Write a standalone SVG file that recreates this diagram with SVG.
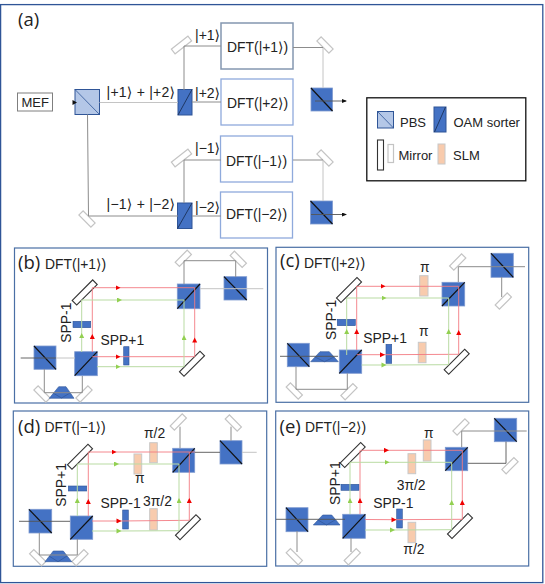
<svg xmlns="http://www.w3.org/2000/svg" width="545" height="584" viewBox="0 0 545 584">
<style>
text{font-family:"Liberation Sans","DejaVu Sans",sans-serif;font-size:13px;fill:#222}
.dl{font-size:13.9px}
.kt{font-size:14px}
.tag{font-family:"Open Sans","DejaVu Sans",sans-serif;font-size:18.5px}
.frame{fill:none;stroke:#2f5597;stroke-width:1.3}
.panel{fill:#fff;stroke:#4a6fa5;stroke-width:1.2}
.dft{fill:#fff;stroke:#8497b0;stroke-width:1.5}
.dft2{fill:#fff;stroke:#8faadc;stroke-width:1.3}
.cube rect{fill:#4472c4;stroke:#7f9bd0;stroke-width:.8}
.cube path{fill:none;stroke:#111;stroke-width:1.2}
.pbs rect{fill:#b4c7e7;stroke:#2f5597;stroke-width:1}
.pbs path{fill:none;stroke:#2f5597;stroke-width:.8}
.sorter rect{fill:#4472c4;stroke:#2f5597;stroke-width:1}
.sorter path{fill:none;stroke:#1f3864;stroke-width:1}
.bm{fill:#fff;stroke:#333;stroke-width:1.1}
.sm{fill:#fff;stroke:#c4c4c4;stroke-width:1.2}
.slm{fill:#f8cbad;stroke:#c8c8c8;stroke-width:1}
.bar{fill:#4472c4;stroke:#2f5597;stroke-width:.6}
.prism{fill:#4472c4;stroke:#2f5597;stroke-width:.6}
.prism-line{fill:none;stroke:#2f5597;stroke-width:.7}
.b{fill:none;stroke:#8c8c8c;stroke-width:1}
.bl{fill:none;stroke:#c4c4c4;stroke-width:1}
.bk{fill:none;stroke:#555;stroke-width:.9}
.r{fill:none;stroke:#f37a82;stroke-width:.9;marker-mid:url(#ar)}
.g{fill:none;stroke:#b9dba3;stroke-width:1;marker-mid:url(#ag)}
.rn{fill:none;stroke:#f37a82;stroke-width:.9}
.ka{fill:none;stroke:#555;stroke-width:.9;marker-end:url(#ak)}
</style>
<defs>
<marker id="ar" markerWidth="6" markerHeight="6" refX="3" refY="2.5" orient="auto" markerUnits="userSpaceOnUse"><path d="M0 0L5 2.5L0 5Z" fill="#f00000"/></marker>
<marker id="ag" markerWidth="6" markerHeight="6" refX="3" refY="2.5" orient="auto" markerUnits="userSpaceOnUse"><path d="M0 0L5 2.5L0 5Z" fill="#92d050"/></marker>
<marker id="ak" markerWidth="6" markerHeight="6" refX="4" refY="2" orient="auto" markerUnits="userSpaceOnUse"><path d="M0 0L5 2L0 4Z" fill="#111"/></marker>
<rect id="big" x="-14.5" y="-3.2" width="29" height="6.4"/>
<rect id="small" x="-8.5" y="-3" width="17" height="6"/>
<rect id="smallw" x="-10.5" y="-3" width="21" height="6"/>
</defs>
<rect width="545" height="584" fill="#fff"/>
<rect class="frame" x="0.6" y="4.6" width="542.2" height="578"/>

<g id="panel-a">
<text class="tag" x="18" y="26">(a)</text>
<g id="mef"><rect x="17.5" y="93" width="35" height="18" fill="#fff" stroke="#7f7f7f" stroke-width="1"/><text x="21.5" y="106.5">MEF</text></g>
<g id="a-pbs" class="pbs"><rect x="75" y="89.5" width="24.5" height="25"/><path d="M75 89.5L99.5 114.5"/></g>
<g id="a-sorter1" class="sorter"><rect x="178" y="89.5" width="14" height="25.5"/><path d="M178 115L192 89.5"/></g>
<g id="a-sorter2" class="sorter"><rect x="177.5" y="203" width="14.5" height="25.5"/><path d="M177.5 228.5L192 203"/></g>
<g id="a-m1"><use href="#smallw" class="sm" transform="translate(181.5 45) rotate(-38)"/></g>
<g id="a-m2"><use href="#small" class="sm" transform="translate(325 45) rotate(45)"/></g>
<g id="a-m3"><use href="#smallw" class="sm" transform="translate(181.5 158) rotate(-38)"/></g>
<g id="a-m4"><use href="#small" class="sm" transform="translate(325 158) rotate(45)"/></g>
<g id="a-m5"><use href="#small" class="sm" transform="translate(87 219) rotate(45)"/></g>
<g id="dft-p1"><rect class="dft" x="221" y="23" width="72" height="46"/><text class="dl" x="227" y="52">DFT(|+1⟩)</text></g>
<g id="dft-p2"><rect class="dft2" x="221" y="79" width="72" height="46"/><text class="dl" x="227" y="108">DFT(|+2⟩)</text></g>
<g id="dft-m1"><rect class="dft2" x="220.5" y="136" width="72" height="46"/><text class="dl" x="226" y="166">DFT(|−1⟩)</text></g>
<g id="dft-m2"><rect class="dft2" x="220.5" y="192" width="72" height="46"/><text class="dl" x="226" y="219">DFT(|−2⟩)</text></g>
<g id="a-c1" class="cube"><rect x="311" y="88" width="21.5" height="23"/><path d="M311 88L332.5 111" stroke-width="1.4"/></g>
<g id="a-c2" class="cube"><rect x="310.5" y="201" width="22" height="23"/><path d="M310.5 201L332.5 224" stroke-width="1.4"/></g>
<text class="kt" x="195" y="40">|+1⟩</text>
<text class="kt" x="195" y="98">|+2⟩</text>
<text class="kt" x="195" y="153">|−1⟩</text>
<text class="kt" x="195" y="212">|−2⟩</text>
<text class="kt" x="106.5" y="97" textLength="68.5">|+1⟩ + |+2⟩</text>
<text class="kt" x="106.5" y="209" textLength="68.5">|−1⟩ + |−2⟩</text>
</g>

<g id="legend">
<rect x="366.8" y="97.8" width="159" height="83" fill="#fff" stroke="#111" stroke-width="1.3"/>
<g id="leg-pbs" class="pbs"><rect x="377.5" y="111.5" width="16" height="16.5"/><path d="M377.5 111.5L393.5 128"/></g>
<text x="400" y="127">PBS</text>
<g id="leg-sorter" class="sorter"><rect x="434" y="107" width="12" height="25"/><path d="M434.5 132L445.5 107"/></g>
<text x="453.5" y="127">OAM sorter</text>
<rect class="bm" x="377.5" y="140" width="6" height="30"/>
<rect class="sm" x="388" y="144.5" width="5.5" height="18" stroke-width="1"/>
<text x="398.5" y="160">Mirror</text>
<rect class="slm" x="438" y="144" width="7" height="20"/>
<text x="453" y="160">SLM</text>
</g>

<g id="panel-b">
<rect class="panel" x="14.5" y="248" width="253" height="155"/>
<text class="tag" x="18" y="269">(b)</text><text class="dl" x="45" y="269">DFT(|+1⟩)</text>
<g id="b-c1" class="cube"><rect x="177.3" y="284" width="22.7" height="24.7"/><path d="M177.3 308.7L200 284"/></g>
<g id="b-c2" class="cube"><rect x="224" y="276.7" width="22.7" height="23.3"/><path d="M224 276.7L246.7 300"/></g>
<g id="b-c3" class="cube"><rect x="74.7" y="351.7" width="22.6" height="24"/><path d="M74.7 375.7L97.3 351.7"/></g>
<g id="b-c4" class="cube"><rect x="34" y="346" width="22" height="23.3"/><path d="M34 346L56 369.3"/></g>
<g id="b-m1"><use href="#big" class="bm" transform="translate(84.7 292.4) rotate(-45)"/></g>
<g id="b-m2"><use href="#big" class="bm" transform="translate(192 363.7) rotate(-45)"/></g>
<g id="b-m3"><use href="#small" class="sm" transform="translate(183.3 258.3) rotate(-45)"/></g>
<g id="b-m4"><use href="#small" class="sm" transform="translate(238.3 259.3) rotate(45)"/></g>
<g id="b-m5"><use href="#small" class="sm" transform="translate(42 394) rotate(45)"/></g>
<g id="b-m6"><use href="#small" class="sm" transform="translate(84 394) rotate(-45)"/></g>
<g id="b-prism"><path class="prism" d="M49.3 398.3L58.7 386.7H66L74 398.3Z"/><path class="prism-line" d="M53 393L61.5 398L70 393"/></g>
<g id="b-spp1"><rect class="bar" x="73" y="321.3" width="17.7" height="6.4"/><text class="dl" transform="translate(70.7 342.7) rotate(-90)">SPP-1</text></g>
<g id="b-spp2"><rect class="bar" x="123.7" y="346.7" width="5.3" height="18.3"/><text class="dl" x="100.5" y="345.3">SPP+1</text></g>
</g>

<g id="panel-c">
<rect class="panel" x="276" y="247.3" width="252.7" height="155"/>
<text class="tag" x="280" y="267">(c)</text><text class="dl" x="304" y="268">DFT(|+2⟩)</text>
<g id="c-c1" class="cube"><rect x="442" y="282.3" width="22.7" height="23.7"/><path d="M442 306L464.7 282.3"/></g>
<g id="c-c2" class="cube"><rect x="491" y="253.3" width="22.3" height="24"/><path d="M491 253.3L513.3 277.3"/></g>
<g id="c-c3" class="cube"><rect x="339.3" y="350" width="22.4" height="23.3"/><path d="M339.3 373.3L361.7 350"/></g>
<g id="c-c4" class="cube"><rect x="287.3" y="343.3" width="22" height="23.4"/><path d="M287.3 343.3L309.3 366.7"/></g>
<g id="c-m1"><use href="#big" class="bm" transform="translate(349 290) rotate(-45)"/></g>
<g id="c-m2"><use href="#big" class="bm" transform="translate(456.7 361.7) rotate(-45)"/></g>
<g id="c-m3"><use href="#small" class="sm" transform="translate(457.7 262) rotate(-45)"/></g>
<g id="c-m4"><use href="#small" class="sm" transform="translate(503.3 301) rotate(-45)"/></g>
<g id="c-m5"><use href="#small" class="sm" transform="translate(294.3 391) rotate(45)"/></g>
<g id="c-m6"><use href="#small" class="sm" transform="translate(349 391.7) rotate(-45)"/></g>
<g id="c-prism"><path class="prism" d="M310.7 361.7L320 351.7H329.3L338.3 361.7Z"/><path class="prism-line" d="M315 357L324.5 361.7L334 357"/></g>
<g id="c-spp1"><rect class="bar" x="337.3" y="319.3" width="18" height="6.4"/><text class="dl" transform="translate(335.7 340) rotate(-90)">SPP-1</text></g>
<g id="c-spp2"><rect class="bar" x="386" y="344.3" width="5.7" height="19"/><text class="dl" x="363.3" y="343.3">SPP+1</text></g>
<g id="c-slm1"><rect class="slm" x="419.7" y="275.7" width="8.3" height="20.3"/><text class="dl" x="420" y="272">π</text></g>
<g id="c-slm2"><rect class="slm" x="418.3" y="342.3" width="7.7" height="20.4"/><text class="dl" x="419" y="336">π</text></g>
</g>

<g id="panel-d">
<rect class="panel" x="13.3" y="411" width="253.4" height="155.3"/>
<text class="tag" x="18" y="433">(d)</text><text class="dl" x="44.5" y="432">DFT(|−1⟩)</text>
<g id="d-c1" class="cube"><rect x="172.7" y="448.3" width="22" height="24"/><path d="M172.7 472.3L194.7 448.3"/></g>
<g id="d-c2" class="cube"><rect x="220" y="440.7" width="22" height="23.3"/><path d="M220 440.7L242 464"/></g>
<g id="d-c3" class="cube"><rect x="70.3" y="516" width="22.4" height="23.3"/><path d="M70.3 539.3L92.7 516"/></g>
<g id="d-c4" class="cube"><rect x="29" y="509.3" width="22.7" height="23.7"/><path d="M29 509.3L51.7 533"/></g>
<g id="d-m1"><use href="#big" class="bm" transform="translate(80 456.7) rotate(-45)"/></g>
<g id="d-m2"><use href="#big" class="bm" transform="translate(188 527.3) rotate(-45)"/></g>
<g id="d-m3"><use href="#small" class="sm" transform="translate(178.3 422) rotate(-45)"/></g>
<g id="d-m4"><use href="#small" class="sm" transform="translate(233.3 423) rotate(45)"/></g>
<g id="d-m5"><use href="#small" class="sm" transform="translate(37.7 557.7) rotate(45)"/></g>
<g id="d-m6"><use href="#small" class="sm" transform="translate(80 557.7) rotate(-45)"/></g>
<g id="d-prism"><path class="prism" d="M45 561.7L53.3 551H63.3L71.7 561.7Z"/><path class="prism-line" d="M49 556L58 561.7L67 556"/></g>
<g id="d-spp1"><rect class="bar" x="68.3" y="486" width="18.4" height="5"/><text class="dl" transform="translate(66 506.7) rotate(-90)">SPP+1</text></g>
<g id="d-spp2"><rect class="bar" x="122.7" y="510" width="5.6" height="19"/><text class="dl" x="100.5" y="508.3">SPP-1</text></g>
<g id="d-slm1"><rect class="slm" x="149.7" y="442.7" width="7.6" height="20"/><text class="dl" x="144" y="438.3">π/2</text></g>
<g id="d-slm2"><rect class="slm" x="134" y="454" width="7.7" height="20"/><text class="dl" x="135" y="483.3">π</text></g>
<g id="d-slm3"><rect class="slm" x="149.7" y="508.7" width="7.6" height="21.3"/><text class="dl" x="143" y="506">3π/2</text></g>
</g>

<g id="panel-e">
<rect class="panel" x="275.7" y="411" width="253" height="155"/>
<text class="tag" x="279.5" y="433">(e)</text><text class="dl" x="305" y="432">DFT(|−2⟩)</text>
<g id="e-c1" class="cube"><rect x="445.3" y="447.3" width="22.4" height="23.4"/><path d="M445.3 470.7L467.7 447.3"/></g>
<g id="e-c2" class="cube"><rect x="494.3" y="418.3" width="22.4" height="23.4"/><path d="M494.3 418.3L516.7 441.7"/></g>
<g id="e-c3" class="cube"><rect x="342.7" y="514.3" width="22.6" height="24"/><path d="M342.7 538.3L365.3 514.3"/></g>
<g id="e-c4" class="cube"><rect x="286" y="507.7" width="22" height="24"/><path d="M286 507.7L308 531.7"/></g>
<g id="e-m1"><use href="#big" class="bm" transform="translate(352.7 455) rotate(-45)"/></g>
<g id="e-m2"><use href="#big" class="bm" transform="translate(460 526) rotate(-45)"/></g>
<g id="e-m3"><use href="#small" class="sm" transform="translate(461 427) rotate(-45)"/></g>
<g id="e-m4"><use href="#small" class="sm" transform="translate(510 465.7) rotate(-45)"/></g>
<g id="e-m5"><use href="#small" class="sm" transform="translate(294.3 556.7) rotate(45)"/></g>
<g id="e-m6"><use href="#small" class="sm" transform="translate(352.3 556.7) rotate(-45)"/></g>
<g id="e-prism"><path class="prism" d="M313.3 525L322.7 515H331.7L340 525Z"/><path class="prism-line" d="M318 520L326.5 525L335 520"/></g>
<g id="e-spp1"><rect class="bar" x="341" y="484.3" width="18" height="6"/><text class="dl" transform="translate(340 505) rotate(-90)">SPP+1</text></g>
<g id="e-spp2"><rect class="bar" x="396.7" y="509" width="5.6" height="19"/><text class="dl" x="373.3" y="508.3">SPP-1</text></g>
<g id="e-slm1"><rect class="slm" x="423.3" y="440" width="7.7" height="21"/><text class="dl" x="424" y="437.7">π</text></g>
<g id="e-slm2"><rect class="slm" x="408" y="453.7" width="7.7" height="20"/><text class="dl" x="396.7" y="489.7">3π/2</text></g>
<g id="e-slm3"><rect class="slm" x="408" y="522.3" width="7.7" height="20.4"/><text class="dl" x="403.3" y="554">π/2</text></g>
</g>

<g id="connectors">
<path d="M72.5 100L77 102.5L72.5 105Z" fill="#111"/>
<path class="bl" d="M99.5 102.5H178"/>
<path class="b" d="M87.5 114.5L88.5 216H178"/>
<path class="b" d="M192 102H221M184 90V46H221M293 47.5H323M192 216H221M184 203V160H221M293 160H323"/>
<path class="bl" d="M323 48V88M323 160V201"/>
<path class="ka" d="M315 101H346"/>
<path class="ka" d="M311 214.5H346"/>
<path class="r" d="M92.3 287.7L118.5 287.7L194.7 287.7"/>
<path class="r" d="M194.7 356.7L194.7 339.5L194.7 287.7"/>
<path class="r" d="M92.3 356.7L118.5 356.7L194.7 356.7"/>
<path class="r" d="M92.3 352L92.3 336L92.3 287.7"/>
<path class="g" d="M81.7 300L120 300L184 300"/>
<path class="g" d="M184 366.7L184 337L184 300"/>
<path class="g" d="M97 366.7L118.5 366.7L184 366.7"/>
<path class="g" d="M81.7 352L81.7 335L81.7 300"/>
<path class="bk" d="M20.7 358H56"/><path class="bl" d="M56 358H75"/>
<path class="bl" d="M200 288.7H263.3"/>
<path class="b" d="M184 284V260.7H235.7V277M44.3 369V392.7H82.3V376"/>
<path class="r" d="M356.7 286.3L383.5 286.3L458.7 286.3"/>
<path class="r" d="M458.7 354.3L458.7 332L458.7 286.3"/>
<path class="r" d="M356.7 354.7L383 354.7L458.7 354.3"/>
<path class="r" d="M356.7 350L356.7 331L356.7 286.3"/>
<path class="g" d="M346.7 298L384.5 298L448.7 298"/>
<path class="g" d="M448.7 364.7L448.7 331L448.7 298"/>
<path class="g" d="M361.7 365L384.5 365L448.7 364.7"/>
<path class="g" d="M346.7 355L346.7 331L346.7 298"/>
<path class="bk" d="M280 356.3H338"/>
<path class="b" d="M458.3 282V266.7H525M501.7 277V297M296 366.7V389.3H347.3V373.3"/>
<path class="r" d="M88.3 452L114.5 452L189.3 452"/>
<path class="rn" d="M189.3 452H194.7"/>
<path class="r" d="M189.3 520.3L189.3 500L189.3 452"/>
<path class="r" d="M92 521L119.5 521L189.3 520.3"/>
<path class="r" d="M88.3 516L88.3 501L88.3 452"/>
<path class="g" d="M77.3 464L117 464L179 464"/>
<path class="g" d="M179 530.7L179 500L179 464"/>
<path class="g" d="M92 531L119.5 531L179 530.7"/>
<path class="g" d="M77.3 516L77.3 500L77.3 464"/>
<path class="bk" d="M19 521.3H70"/>
<path class="bk" d="M194.7 452.3H220"/><path class="bl" d="M242 452.3H256.7"/>
<path class="b" d="M180 426.7V448M231 426.7V440.7M39.3 533V555H77.3V539"/>
<path class="r" d="M360.7 450.3L387 450.3L462.3 450.3"/>
<path class="r" d="M462.3 519.3L462.3 502L462.3 450.3"/>
<path class="r" d="M365 519.5L394.5 519.7L462.3 519.3"/>
<path class="r" d="M360 514L360 500L360 450.3"/>
<path class="g" d="M350 462.3L387.5 462.3L451.7 462.3"/>
<path class="g" d="M451.7 529.7L451.7 502L451.7 462.3"/>
<path class="g" d="M365 530L393 530L451.7 529.7"/>
<path class="g" d="M350 514L350 500L350 462.3"/>
<path class="bk" d="M276 519.3H345"/>
<path class="b" d="M461.7 447V431H526.7"/>
<path class="bk" d="M467.7 463.3H506V441.7"/>
<path class="b" d="M297 531V552M351 538V552"/>
</g>
</svg>
